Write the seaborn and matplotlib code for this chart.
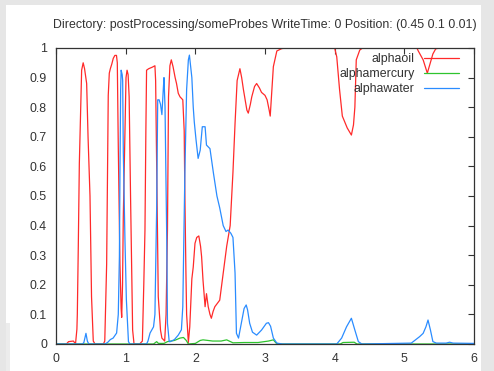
import numpy as np
import pandas as pd
import seaborn as sns
import matplotlib
matplotlib.use("Agg")
import matplotlib.pyplot as plt
from matplotlib.patches import Rectangle

# probe samples: time and phase fraction for each phase
oil_t = [0.0, 0.15, 0.18, 0.25, 0.28, 0.30, 0.306, 0.32, 0.335, 0.354, 0.368, 0.39, 0.41, 0.44, 0.46,
         0.488, 0.51, 0.535, 0.56, 0.68, 0.70, 0.715, 0.727, 0.74, 0.75, 0.765, 0.78, 0.80, 0.822, 0.845,
         0.868, 0.88, 0.894, 0.918, 0.935, 0.943, 0.955, 0.966, 0.99, 1.005, 1.02, 1.035, 1.05, 1.07, 1.09,
         1.10, 1.12, 1.20, 1.24, 1.26, 1.277, 1.29, 1.30, 1.33, 1.38, 1.42, 1.43, 1.445, 1.468, 1.50, 1.52,
         1.56, 1.58, 1.60, 1.615, 1.635, 1.655, 1.68, 1.71, 1.73, 1.755, 1.78, 1.82, 1.84, 1.85, 1.865,
         1.875, 1.90, 1.92, 1.95, 1.97, 1.995, 2.02, 2.05, 2.075, 2.09, 2.11, 2.14, 2.16, 2.185, 2.21, 2.23,
         2.255, 2.28, 2.35, 2.40, 2.45, 2.50, 2.54, 2.57, 2.60, 2.64, 2.665, 2.69, 2.74, 2.76, 2.79, 2.81,
         2.85, 2.88, 2.92, 2.95, 3.0, 3.03, 3.06, 3.075, 3.09, 3.12, 3.17, 3.24, 3.30, 4.00, 4.03, 4.07,
         4.11, 4.18, 4.24, 4.27, 4.29, 4.31, 4.36, 4.40, 5.18, 5.20, 5.27, 5.33, 5.37, 5.41, 5.45, 5.50, 6.0]
oil_a = [0.0, 0.0, 0.008, 0.01, 0.0, 0.05, 0.10, 0.33, 0.61, 0.80, 0.925, 0.95, 0.93, 0.88, 0.70,
         0.50, 0.16, 0.01, 0.0, 0.0, 0.01, 0.15, 0.27, 0.60, 0.84, 0.915, 0.93, 0.945, 0.965, 0.975,
         0.975, 0.95, 0.667, 0.27, 0.12, 0.09, 0.20, 0.43, 0.72, 0.90, 0.925, 0.91, 0.835, 0.50, 0.20,
         0.047, 0.0, 0.0, 0.01, 0.20, 0.385, 0.72, 0.925, 0.93, 0.935, 0.94, 0.89, 0.61, 0.16, 0.047, 0.02,
         0.01, 0.10, 0.385, 0.835, 0.94, 0.96, 0.937, 0.90, 0.88, 0.847, 0.835, 0.825, 0.72, 0.50, 0.24,
         0.10, 0.005, 0.058, 0.22, 0.26, 0.34, 0.36, 0.365, 0.33, 0.295, 0.216, 0.126, 0.17, 0.126, 0.10, 0.087,
         0.11, 0.126, 0.148, 0.24, 0.33, 0.40, 0.58, 0.745, 0.89, 0.93, 0.90, 0.86, 0.79, 0.78, 0.81, 0.835,
         0.87, 0.88, 0.865, 0.85, 0.84, 0.825, 0.79, 0.77, 0.825, 0.937, 0.99, 0.998, 1.0, 1.0, 0.97, 0.86,
         0.77, 0.73, 0.706, 0.74, 0.80, 0.96, 0.993, 1.0, 1.0, 0.99, 0.96, 0.915, 0.948, 0.98, 0.997, 1.0, 1.0]

mercury_t = [0.0, 1.40, 1.445, 1.47, 1.55, 1.60, 1.70, 1.78, 1.83, 1.87, 1.90, 2.0, 2.07, 2.11, 2.18,
             2.25, 2.30, 2.37, 2.45, 2.54, 2.70, 2.90, 3.05, 3.12, 3.16, 3.20, 4.08, 4.12, 4.28, 4.32, 6.0]
mercury_a = [0.0, 0.0, 0.008, 0.002, 0.002, 0.008, 0.012, 0.02, 0.022, 0.012, 0.0, 0.002, 0.012, 0.014, 0.012,
             0.01, 0.01, 0.01, 0.014, 0.004, 0.005, 0.005, 0.01, 0.014, 0.003, 0.0, 0.0, 0.005, 0.006, 0.0, 0.0]

water_t = [0.0, 0.38, 0.40, 0.43, 0.45, 0.47, 0.70, 0.74, 0.78, 0.82, 0.87, 0.894, 0.91, 0.918, 0.928,
           0.935, 0.95, 0.957, 0.966, 0.99, 1.01, 1.04, 1.06, 1.30, 1.32, 1.35, 1.40, 1.42, 1.445, 1.46,
           1.48, 1.50, 1.52, 1.54, 1.55, 1.565, 1.59, 1.60, 1.625, 1.64, 1.70, 1.755, 1.80, 1.82, 1.85,
           1.875, 1.90, 1.915, 1.95, 1.97, 1.985, 2.01, 2.04, 2.07, 2.10, 2.14, 2.16, 2.21, 2.26, 2.31,
           2.35, 2.40, 2.44, 2.47, 2.51, 2.54, 2.57, 2.59, 2.62, 2.66, 2.70, 2.73, 2.75, 2.78, 2.82, 2.88,
           2.95, 3.02, 3.05, 3.08, 3.12, 3.17, 3.25, 4.03, 4.10, 4.17, 4.24, 4.29, 4.34, 4.39, 5.10, 5.22,
           5.27, 5.31, 5.34, 5.375, 5.41, 5.46, 5.60, 5.65, 5.70, 6.0]
water_a = [0.0, 0.0, 0.005, 0.036, 0.01, 0.0, 0.0, 0.005, 0.015, 0.02, 0.037, 0.10, 0.295, 0.58, 0.86,
           0.925, 0.91, 0.89, 0.65, 0.35, 0.15, 0.008, 0.0, 0.0, 0.01, 0.037, 0.058, 0.10, 0.46, 0.825,
           0.825, 0.81, 0.775, 0.86, 0.90, 0.80, 0.35, 0.07, 0.008, 0.008, 0.015, 0.03, 0.048, 0.126, 0.58,
           0.86, 0.96, 0.976, 0.90, 0.80, 0.75, 0.69, 0.627, 0.655, 0.734, 0.734, 0.672, 0.66, 0.577, 0.50,
           0.46, 0.40, 0.38, 0.385, 0.374, 0.36, 0.24, 0.036, 0.02, 0.07, 0.12, 0.132, 0.115, 0.07, 0.04, 0.03,
           0.047, 0.07, 0.072, 0.06, 0.02, 0.003, 0.0, 0.0, 0.02, 0.058, 0.087, 0.047, 0.008, 0.0, 0.003, 0.025,
           0.036, 0.058, 0.081, 0.047, 0.008, 0.003, 0.003, 0.006, 0.003, 0.002]

series_names = ["alphaoil", "alphamercury", "alphawater"]
series_colors = ["#ff2a2a", "#2ec42e", "#2a8cff"]
x_ticks = [0, 1, 2, 3, 4, 5, 6]
y_ticks = [0, 0.1, 0.2, 0.3, 0.4, 0.5, 0.6, 0.7, 0.8, 0.9, 1]
y_tick_labels = ["0", "0.1", "0.2", "0.3", "0.4", "0.5", "0.6", "0.7", "0.8", "0.9", "1"]
title = "Directory: postProcessing/someProbes WriteTime: 0 Position: (0.45 0.1 0.01)"

frames = []
for name, t, a in zip(series_names, [oil_t, mercury_t, water_t], [oil_a, mercury_a, water_a]):
    frames.append(pd.DataFrame({"time": t, "alpha": a, "field": name}))
df = pd.concat(frames, ignore_index=True)

sns.set_style("white")
plt.rcParams["font.family"] = ["Liberation Sans", "DejaVu Sans"]

FS = 8.9
W, H = 494, 371
fig = plt.figure(figsize=(W / 100, H / 100), dpi=100, facecolor="#e6e6e6")
fig.patches.append(Rectangle((6 / W, 0), (481 - 6) / W, (H - 5) / H, transform=fig.transFigure,
                             facecolor="white", edgecolor="none", zorder=-10))
fig.patches.append(Rectangle((6 / W, 0), 4 / W, (H - 323) / H, transform=fig.transFigure,
                             facecolor="#ececec", edgecolor="none", zorder=-10))

ax = fig.add_axes([56 / W, (H - 344) / H, (474 - 56) / W, (344 - 48) / H])
ax.set_zorder(1)
ax.set_facecolor("white")

sns.lineplot(data=df, x="time", y="alpha", hue="field", hue_order=series_names,
             palette=dict(zip(series_names, series_colors)), estimator=None, sort=False,
             linewidth=0.9, ax=ax)

ax.set_xlim(0, 6)
ax.set_ylim(0, 1)
ax.set_xticks(x_ticks)
ax.set_xticklabels([str(v) for v in x_ticks])
ax.set_yticks(y_ticks)
ax.set_yticklabels(y_tick_labels)
ax.set_xlabel("")
ax.set_ylabel("")
ax.tick_params(direction="in", length=4, width=0.8, colors="#333333", labelsize=FS,
               top=True, right=True, pad=6.5)
for s in ax.spines.values():
    s.set_visible(True)
    s.set_color("#333333")
    s.set_linewidth(0.9)

handles, labels = ax.get_legend_handles_labels()
ax.legend(handles, labels, loc="upper right", bbox_to_anchor=((459 - 56) / 418, (344 - 53) / 296),
          frameon=False, markerfirst=False, fontsize=FS, handlelength=2.8, handletextpad=0.8,
          labelspacing=0.25, borderpad=0, borderaxespad=0, labelcolor="#333333")

fig.text(265 / W, 1 - 25 / H, title, ha="center", va="center", fontsize=FS, color="#333333")

fig.savefig("out.png", dpi=100, facecolor=fig.get_facecolor())
